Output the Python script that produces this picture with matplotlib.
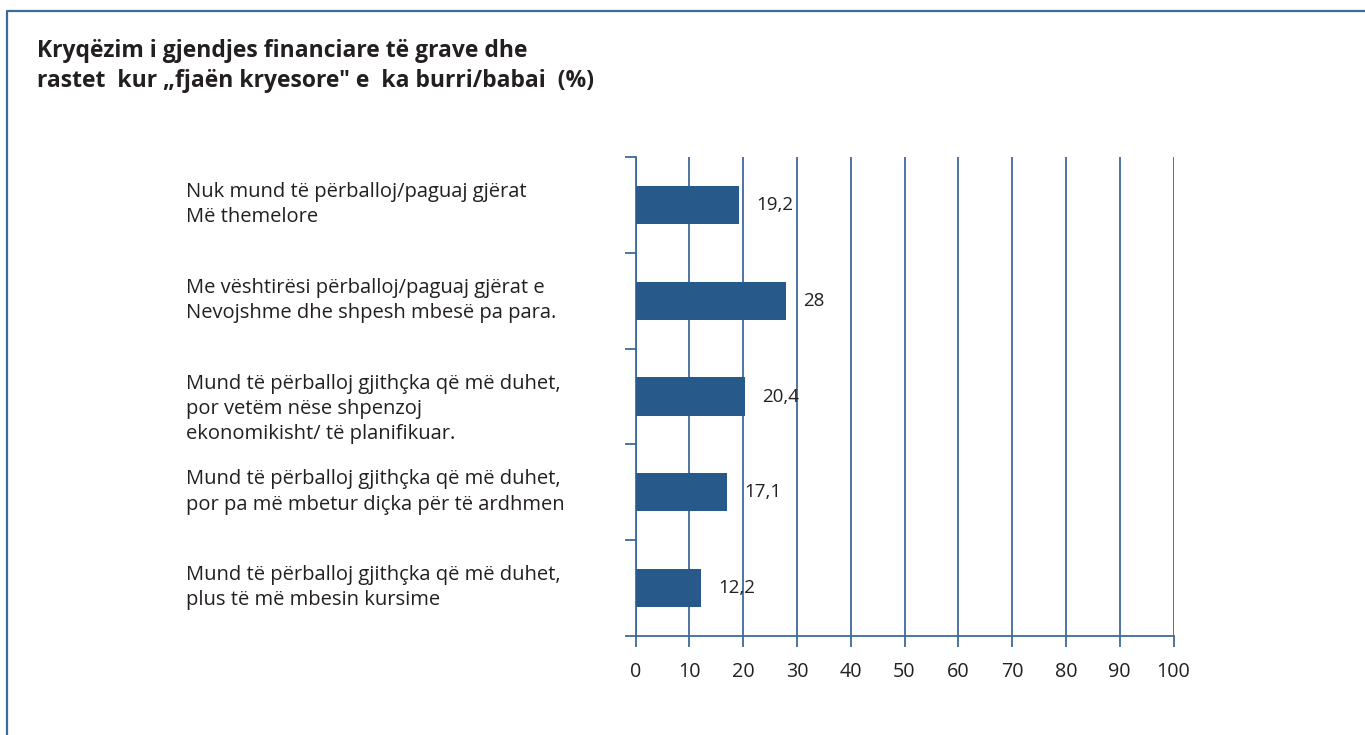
import matplotlib
matplotlib.use("Agg")
from matplotlib import pyplot as plt
from matplotlib.lines import Line2D
from matplotlib.transforms import blended_transform_factory

plt.rcParams["font.family"] = ["Open Sans", "DejaVu Sans"]

# Data
categories = [
    "Nuk mund të përballoj/paguaj gjërat\nMë themelore",
    "Me vështirësi përballoj/paguaj gjërat e\nNevojshme dhe shpesh mbesë pa para.",
    "Mund të përballoj gjithçka që më duhet,\npor vetëm nëse shpenzoj\nekonomikisht/ të planifikuar.",
    "Mund të përballoj gjithçka që më duhet,\npor pa më mbetur diçka për të ardhmen",
    "Mund të përballoj gjithçka që më duhet,\nplus të më mbesin kursime",
]
values = [19.2, 28, 20.4, 17.1, 12.2]
value_labels = ["19,2", "28", "20,4", "17,1", "12,2"]
x_ticks = [0, 10, 20, 30, 40, 50, 60, 70, 80, 90, 100]
title = "Kryqëzim i gjendjes financiare të grave dhe\nrastet  kur \u201efjaën kryesore\" e  ka burri/babai  (%)"

bar_color = "#275A8A"
line_color = "#3D6A9A"
text_color = "#231F20"

fig = plt.figure(figsize=(13.65, 7.35), dpi=100)
ax = fig.add_axes([635.5 / 1365, 99 / 735, 538 / 1365, 479 / 735])

pos = list(range(len(values)))
ax.barh(pos, values, height=0.4, color=bar_color, zorder=3)
for p, v, lab in zip(pos, values, value_labels):
    ax.text(v + 3.2, p, lab, va="center", ha="left", fontsize=13.5, color=text_color, zorder=4)

ax.set_xlim(0, 100)
ax.set_ylim(len(values) - 0.5, -0.5)
ax.set_xticks(x_ticks)
ax.set_xticklabels([str(t) for t in x_ticks])
ax.set_yticks([p - 0.5 for p in pos] + [len(values) - 0.5])
ax.set_yticklabels([])
ax.tick_params(axis="both", direction="out", length=8, width=1.3, color=line_color,
               labelsize=14.2, labelcolor=text_color)
ax.tick_params(axis="x", pad=11)
ax.grid(axis="x", color=line_color, linewidth=1.3, zorder=0)
for side in ("top", "right"):
    ax.spines[side].set_visible(False)
for side in ("left", "bottom"):
    ax.spines[side].set_color(line_color)
    ax.spines[side].set_linewidth(1.3)

# category labels, left aligned
trans = blended_transform_factory(fig.transFigure, ax.transData)
for p, lab in zip(pos, categories):
    ax.text(186 / 1365, p - 0.24, lab, transform=trans, ha="left", va="top",
            fontsize=14.5, color=text_color, linespacing=1.35)

fig.text(37 / 1365, 1 - 39 / 735, title, ha="left", va="top", fontsize=16.5,
         fontweight="bold", color=text_color, linespacing=1.32)

# outer frame
fig.add_artist(Line2D([7 / 1365, 7 / 1365, 1.0], [0.0, 1 - 11 / 735, 1 - 11 / 735],
                      transform=fig.transFigure, color=line_color, linewidth=1.6))

fig.savefig("out.png", dpi=100)
